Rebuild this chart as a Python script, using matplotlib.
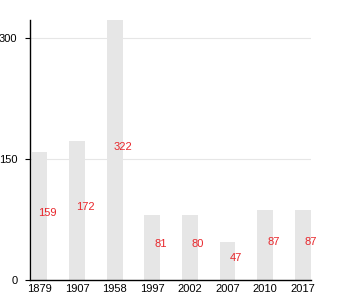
import matplotlib
matplotlib.use('Agg')
import matplotlib.pyplot as plt

years = ['1879', '1907', '1958', '1997', '2002', '2007', '2010', '2017']
values = [159, 172, 322, 81, 80, 47, 87, 87]
yticks = [0, 150, 300]

plt.rcParams['font.family'] = ['Liberation Sans', 'DejaVu Sans']

fig = plt.figure(figsize=(3.5, 3.0), dpi=100)
ax = fig.add_axes([30/350, 20/300, 281/350, 260/300])

x = range(len(years))
ax.bar(x, values, width=0.42, color='#e6e6e6', zorder=2)
for i, v in zip(x, values):
    ax.text(i + 0.22, v / 2 + 4, str(v), color='#e8262b', fontsize=8,
            ha='center', va='center', zorder=3)

ax.set_xlim(-0.25, 7.22)
ax.set_ylim(0, 322)
ax.set_xticks(list(x))
ax.set_xticklabels(years)
ax.set_yticks(yticks)
ax.tick_params(axis='x', length=0, pad=3, labelsize=8)
ax.tick_params(axis='y', length=3.5, width=0.8, pad=5.5, labelsize=8)
for g in yticks[1:]:
    ax.axhline(g, color='#e6e6e6', linewidth=0.8, zorder=1)

ax.spines['top'].set_visible(False)
ax.spines['right'].set_visible(False)
ax.spines['left'].set_linewidth(1)
ax.spines['bottom'].set_linewidth(1)

fig.savefig('out.png', dpi=100)
